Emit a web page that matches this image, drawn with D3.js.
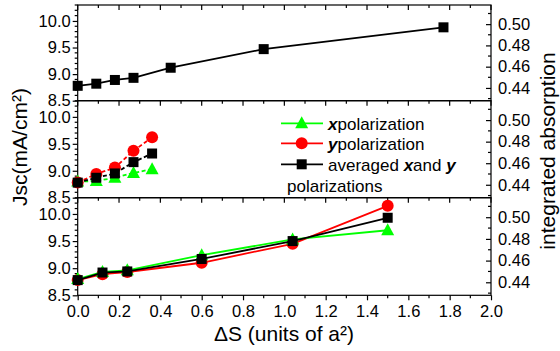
<!DOCTYPE html>
<html><head><meta charset="utf-8">
<script src="https://cdn.jsdelivr.net/npm/d3@7"></script>
<style>body{margin:0;background:#fff}svg{display:block}text{font-family:"Liberation Sans",Arial,sans-serif}</style>
</head><body><svg id="c" width="560" height="351"></svg>
<script>
// data
const topX = [0, 0.09, 0.18, 0.27, 0.45, 0.9, 1.77];
const topAvg = [8.78, 8.82, 8.89, 8.93, 9.12, 9.47, 9.88];
const midX = [0, 0.09, 0.18, 0.27, 0.36];
const midXpol = [8.80, 8.81, 8.87, 8.96, 9.03];
const midYpol = [8.78, 8.94, 9.06, 9.37, 9.62];
const midAvg = [8.78, 8.87, 8.95, 9.16, 9.32];
const botX = [0, 0.12, 0.24, 0.6, 1.04, 1.5];
const botXpol = [8.80, 8.93, 8.96, 9.24, 9.53, 9.70];
const botYpol = [8.78, 8.89, 8.93, 9.10, 9.45, 10.15];
const botAvg = [8.78, 8.92, 8.94, 9.17, 9.50, 9.93];
const xTicks = [0, 0.2, 0.4, 0.6, 0.8, 1.0, 1.2, 1.4, 1.6, 1.8, 2.0];
const yTicks = [8.5, 9.0, 9.5, 10.0];
const rTicks = [0.44, 0.46, 0.48, 0.50];

const svg = d3.select("#c");
const L = 77.7, R = 491, panelTops = [5, 100.7, 197.7], PH = [95.7, 97, 97.6];
const x = d3.scaleLinear().domain([0, 2]).range([L, R]);
const GREEN = "#00ff00", RED = "#ff0000", BLACK = "#000";

function panel(i, series, dashed) {
  const t = panelTops[i], h = PH[i];
  const y = d3.scaleLinear().domain([8.5, 10.3]).range([t + h, t]);
  const yr = d3.scaleLinear().domain([0.428, 0.518]).range([t + h, t]);
  const g = svg.append("g");
  g.append("rect").attr("x", L).attr("y", t).attr("width", R - L).attr("height", h)
    .attr("fill", "none").attr("stroke", "#000").attr("stroke-width", 1.2);
  const xt = d3.range(0, 2.001, 0.1);
  g.selectAll(null).data(xt).join("line")
    .attr("x1", d => x(d)).attr("x2", d => x(d)).attr("y1", t)
    .attr("y2", (d, k) => t + (k % 2 === 0 ? 5 : 3)).attr("stroke", "#000").attr("stroke-width", 1.2);
  const la = d3.axisLeft(y).tickValues(yTicks).tickFormat(d3.format(".1f")).tickSize(5).tickPadding(2);
  const lg = g.append("g").attr("transform", `translate(${L},0)`).call(la);
  lg.select(".domain").remove();
  lg.selectAll("line").attr("stroke-width", 1.2);
  lg.selectAll("text").attr("font-size", 16.5).attr("fill", "#000");
  const lm = d3.range(8.6, 10.31, 0.1).filter(v => Math.abs(v * 2 - Math.round(v * 2)) > 0.01);
  g.selectAll(null).data(lm).join("line").attr("x1", L - 3).attr("x2", L)
    .attr("y1", d => y(d)).attr("y2", d => y(d)).attr("stroke", "#000").attr("stroke-width", 1.2);
  const ra = d3.axisRight(yr).tickValues(rTicks).tickFormat(d3.format(".2f")).tickSize(-5).tickPadding(7);
  const rg = g.append("g").attr("transform", `translate(${R},0)`).call(ra);
  rg.select(".domain").remove();
  rg.selectAll("line").attr("stroke-width", 1.2);
  rg.selectAll("text").attr("font-size", 16.5).attr("fill", "#000");
  const rm = [0.43, 0.45, 0.47, 0.49, 0.51];
  g.selectAll(null).data(rm).join("line").attr("x1", R - 3).attr("x2", R)
    .attr("y1", d => yr(d)).attr("y2", d => yr(d)).attr("stroke", "#000").attr("stroke-width", 1.2);
  series.forEach(s => {
    const pts = s.xs.map((xv, k) => [xv, s.ys[k]]);
    g.append("path").datum(pts).attr("fill", "none").attr("stroke", s.color).attr("stroke-width", 1.8)
      .attr("stroke-dasharray", dashed ? "4,2.5" : null)
      .attr("d", d3.line().x(d => x(d[0])).y(d => y(d[1])));
    marker(g, pts.map(d => [x(d[0]), y(d[1])]), s.shape, s.color);
  });
  return g;
}
function marker(g, pts, shape, color) {
  if (shape === "square") {
    g.selectAll(null).data(pts).join("rect").attr("x", d => d[0] - 5).attr("y", d => d[1] - 5)
      .attr("width", 10).attr("height", 10).attr("fill", color);
  } else if (shape === "circle") {
    g.selectAll(null).data(pts).join("circle").attr("cx", d => d[0]).attr("cy", d => d[1])
      .attr("r", 6).attr("fill", color);
  } else {
    g.selectAll(null).data(pts).join("path")
      .attr("d", d => `M${d[0]},${d[1] - 7}L${d[0] + 6.5},${d[1] + 5}L${d[0] - 6.5},${d[1] + 5}Z`).attr("fill", color);
  }
}

panel(0, [{xs: topX, ys: topAvg, color: BLACK, shape: "square"}], false);
panel(1, [
  {xs: midX, ys: midXpol, color: GREEN, shape: "triangle"},
  {xs: midX, ys: midYpol, color: RED, shape: "circle"},
  {xs: midX, ys: midAvg, color: BLACK, shape: "square"}], true);
panel(2, [
  {xs: botX, ys: botYpol, color: RED, shape: "circle"},
  {xs: botX, ys: botXpol, color: GREEN, shape: "triangle"},
  {xs: botX, ys: botAvg, color: BLACK, shape: "square"}], false);

// bottom axis
const bt = panelTops[2] + PH[2];
const ba = d3.axisBottom(x).tickValues(xTicks).tickFormat(d3.format(".1f")).tickSize(5).tickPadding(5);
const bg = svg.append("g").attr("transform", `translate(0,${bt})`).call(ba);
bg.select(".domain").remove();
bg.selectAll("line").attr("stroke-width", 1.2);
bg.selectAll("text").attr("font-size", 16.5).attr("fill", "#000");
bg.selectAll(null).data(d3.range(0.1, 2, 0.2)).join("line").attr("x1", d => x(d)).attr("x2", d => x(d))
  .attr("y1", 0).attr("y2", 3).attr("stroke", "#000").attr("stroke-width", 1.2);

// titles
svg.append("text").attr("x", 284).attr("y", 341).attr("text-anchor", "middle").attr("font-size", 21)
  .text("ΔS (units of a²)");
svg.append("text").attr("transform", "translate(27,147) rotate(-90)").attr("text-anchor", "middle")
  .attr("font-size", 21).text("Jsc(mA/cm²)");
svg.append("text").attr("transform", "translate(555,151) rotate(-90)").attr("text-anchor", "middle")
  .attr("font-size", 21).text("integrated absorption");

// legend
const leg = svg.append("g");
const legItems = [
  {y: 123.3, color: GREEN, shape: "triangle"},
  {y: 143.3, color: RED, shape: "circle"},
  {y: 164.3, color: BLACK, shape: "square"}
];
legItems.forEach(it => {
  leg.append("line").attr("x1", 281).attr("x2", 323).attr("y1", it.y).attr("y2", it.y)
    .attr("stroke", it.color).attr("stroke-width", 1.8);
  marker(leg, [[301.7, it.y]], it.shape, it.color);
});
const t1 = leg.append("text").attr("x", 328).attr("y", 129.5).attr("font-size", 17);
t1.append("tspan").attr("font-style", "italic").attr("font-weight", "bold").text("x");
t1.append("tspan").text("polarization");
const t2 = leg.append("text").attr("x", 328).attr("y", 149.5).attr("font-size", 17);
t2.append("tspan").attr("font-style", "italic").attr("font-weight", "bold").text("y");
t2.append("tspan").text("polarization");
const t3 = leg.append("text").attr("x", 328).attr("y", 170.5).attr("font-size", 17);
t3.append("tspan").text("averaged ");
t3.append("tspan").attr("font-style", "italic").attr("font-weight", "bold").text("x");
t3.append("tspan").text("and ");
t3.append("tspan").attr("font-style", "italic").attr("font-weight", "bold").text("y");
leg.append("text").attr("x", 287).attr("y", 191.5).attr("font-size", 17).text("polarizations");
</script></body></html>
